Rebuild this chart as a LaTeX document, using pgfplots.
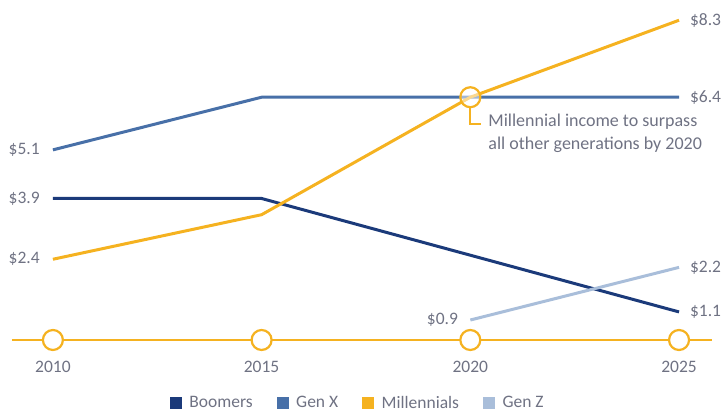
\documentclass[border=0pt]{standalone}
\usepackage{fontspec}
\setmainfont{Carlito}
\usepackage{pgfplots}
\pgfplotsset{compat=1.18}
\definecolor{boom}{HTML}{1B3A7A}
\definecolor{genx}{HTML}{4870A8}
\definecolor{mill}{HTML}{F5B220}
\definecolor{genz}{HTML}{A9BEDA}
\definecolor{txt}{HTML}{6F7283}
\newcommand{\lab}{\fontsize{17.5}{19}\selectfont}
\begin{document}
\begin{tikzpicture}
\path[use as bounding box] (0,0) rectangle (722pt,411pt);
\begin{axis}[
  at={(12pt,71pt)}, anchor=south west,
  scale only axis, width=700pt, height=340pt,
  xmin=2009.02, xmax=2025.79, ymin=0.407, ymax=8.8,
  axis x line=bottom, axis y line=none,
  x axis line style={-, draw=mill, line width=2.5pt},
  xtick={2010,2015,2020,2025}, xticklabels={2010,2015,2020,2025},
  major tick length=0pt,
  xticklabel style={font=\lab, text=txt, yshift=-18pt},
  clip=false,
  legend style={at={(0.494,-0.185)}, anchor=center, draw=none, fill=none,
    legend columns=4, font=\fontsize{17.5}{19}\selectfont, text=txt,
    /tikz/every even column/.append style={column sep=22pt}},
  legend image code/.code={\fill[#1] (0pt,-4.5pt) rectangle (9pt,4.5pt); \path[draw=none, fill=none] (0pt,0pt) -- (16pt,0pt);},
]
\addplot[boom, line width=3pt] coordinates {(2010,3.9)(2015,3.9)(2020,2.5)(2025,1.1)};
\addlegendentry{Boomers}
\addplot[genx, line width=3pt] coordinates {(2010,5.1)(2015,6.4)(2020,6.4)(2025,6.4)};
\addlegendentry{Gen X}
\addplot[mill, line width=3pt] coordinates {(2010,2.4)(2015,3.5)(2020,6.4)(2025,8.3)};
\addlegendentry{Millennials}
\addplot[genz, line width=3pt] coordinates {(2020,0.9)(2025,2.2)};
\addlegendentry{Gen Z}
\addplot[only marks, mark=*, mark size=10pt, mark options={fill=white, draw=mill, line width=2.2pt}, forget plot]
  coordinates {(2010,0.407)(2015,0.407)(2020,0.407)(2025,0.407)};
\addplot[only marks, mark=*, mark size=10pt, mark options={fill=white, fill opacity=0.5, draw=mill, line width=2.2pt}, forget plot]
  coordinates {(2020,6.4)};
\draw[mill, line width=1.8pt] (axis cs:2020,6.13) -- (axis cs:2020,5.746) -- (axis cs:2020.264,5.746);
\node[anchor=west, align=left, inner sep=0pt, text=txt, font=\fontsize{18}{23}\selectfont]
  at (axis cs:2020.43,5.50) {Millennial income to surpass\\all other generations by 2020};
\node[anchor=east, text=txt, font=\lab, inner sep=0pt] at (axis cs:2009.69,5.1) {\$5.1};
\node[anchor=east, text=txt, font=\lab, inner sep=0pt] at (axis cs:2009.69,3.9) {\$3.9};
\node[anchor=east, text=txt, font=\lab, inner sep=0pt] at (axis cs:2009.69,2.4) {\$2.4};
\node[anchor=west, text=txt, font=\lab, inner sep=0pt] at (axis cs:2025.26,8.3) {\$8.3};
\node[anchor=west, text=txt, font=\lab, inner sep=0pt] at (axis cs:2025.26,6.4) {\$6.4};
\node[anchor=west, text=txt, font=\lab, inner sep=0pt] at (axis cs:2025.26,2.2) {\$2.2};
\node[anchor=west, text=txt, font=\lab, inner sep=0pt] at (axis cs:2025.26,1.1) {\$1.1};
\node[anchor=east, text=txt, font=\lab, inner sep=0pt] at (axis cs:2019.71,0.9) {\$0.9};
\end{axis}
\end{tikzpicture}
\end{document}
